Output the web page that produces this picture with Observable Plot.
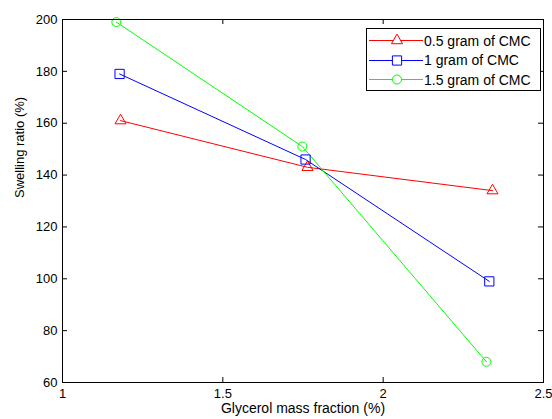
<!DOCTYPE html>
<html><head><meta charset="utf-8">
<script src="https://cdn.jsdelivr.net/npm/d3@7"></script>
<script src="https://cdn.jsdelivr.net/npm/@observablehq/plot@0.6"></script>
<style>
html,body{margin:0;padding:0;background:#fff;}
#chart{position:relative;width:552px;height:419px;font-family:"Liberation Sans",Arial,sans-serif;}
#legend{position:absolute;left:366px;top:28px;width:175px;height:63px;border:1px solid #000;background:#fff;box-sizing:border-box;padding-top:2px;}
.lrow{display:flex;align-items:center;height:19.5px;}
.lrow svg{display:block;margin-left:1px;}
.lrow span{font-size:14px;color:#000;margin-left:1px;white-space:nowrap;}
</style></head><body><div id="chart"></div>
<script>
const xTicks = [1, 1.5, 2, 2.5];
const yTicks = [60, 80, 100, 120, 140, 160, 180, 200];
const seriesNames = ["0.5 gram of CMC", "1 gram of CMC", "1.5 gram of CMC"];
const glycerol05 = [1.181, 1.764, 2.341];
const swelling05 = [161, 143, 134];
const glycerol10 = [1.178, 1.758, 2.331];
const swelling10 = [179, 146, 99];
const glycerol15 = [1.168, 1.748, 2.322];
const swelling15 = [199, 151, 68];
const xLabel = "Glycerol mass fraction (%)";
const yLabel = "Swelling ratio (%)";

const seriesColors = ["#ff0000", "#0000ff", "#00ff00"];
const seriesSymbols = ["triangle", "square", "circle"];
const markerR = [4.1, 5.2, 4.5];

const seriesX = [glycerol05, glycerol10, glycerol15];
const seriesY = [swelling05, swelling10, swelling15];
const rows = [];
seriesX.forEach((xs, i) => xs.forEach((x, j) => rows.push({series: seriesNames[i], x, y: seriesY[i][j]})));

const W = 552, H = 419, mL = 62, mR = 9, mT = 19, mB = 37;
const pw = W - mL - mR, ph = H - mT - mB;

const chart = Plot.plot({
  width: W, height: H,
  marginLeft: mL, marginRight: mR, marginTop: mT, marginBottom: mB,
  style: {fontFamily: '"Liberation Sans", Arial, sans-serif', fontSize: "13px", background: "#fff", color: "#000"},
  x: {domain: [1, 2.5]},
  y: {domain: [60, 200]},
  marks: [
    Plot.ruleX(xTicks, {x: d => d, insetTop: ph - 5, stroke: "#000"}),
    Plot.ruleX(xTicks, {x: d => d, insetBottom: ph - 5, stroke: "#000"}),
    Plot.ruleY(yTicks, {y: d => d, insetRight: pw - 5, stroke: "#000"}),
    Plot.ruleY(yTicks, {y: d => d, insetLeft: pw - 5, stroke: "#000"}),
    Plot.axisX({ticks: xTicks, tickSize: 0, tickPadding: 6, tickFormat: d => String(d), label: null}),
    Plot.axisY({ticks: yTicks, tickSize: 0, tickPadding: 5, tickFormat: d => String(d), label: null}),
    ...seriesNames.map((name, i) => Plot.line(rows.filter(r => r.series === name), {x: "x", y: "y", stroke: seriesColors[i], strokeWidth: 1})),
    ...seriesNames.map((name, i) => Plot.dot(rows.filter(r => r.series === name), {x: "x", y: "y", stroke: seriesColors[i], symbol: seriesSymbols[i], r: markerR[i], fill: "none", strokeWidth: 1})),
    Plot.frame({stroke: "#000"}),
    Plot.text([xLabel], {text: d => d, frameAnchor: "bottom", dy: 30, fontSize: 14}),
    Plot.text([yLabel], {text: d => d, frameAnchor: "left", dx: -43, dy: -3, rotate: -90, fontSize: 13})
  ]
});
const host = document.getElementById("chart");
host.appendChild(chart);

const legend = document.createElement("div");
legend.id = "legend";
seriesNames.forEach((name, i) => {
  const row = document.createElement("div");
  row.className = "lrow";
  const svg = d3.create("svg").attr("width", 55).attr("height", 19);
  svg.append("line").attr("x1", 1).attr("x2", 55).attr("y1", 9.5).attr("y2", 9.5)
    .attr("stroke", seriesColors[i]).attr("stroke-width", 1);
  const sym = {triangle: d3.symbolTriangle, square: d3.symbolSquare, circle: d3.symbolCircle}[seriesSymbols[i]];
  svg.append("path").attr("transform", "translate(29,9.5)")
    .attr("d", d3.symbol(sym, markerR[i] * markerR[i] * Math.PI)())
    .attr("fill", "#fff").attr("stroke", seriesColors[i]).attr("stroke-width", 1);
  row.appendChild(svg.node());
  const span = document.createElement("span");
  span.textContent = name;
  row.appendChild(span);
  legend.appendChild(row);
});
host.appendChild(legend);
</script></body></html>
